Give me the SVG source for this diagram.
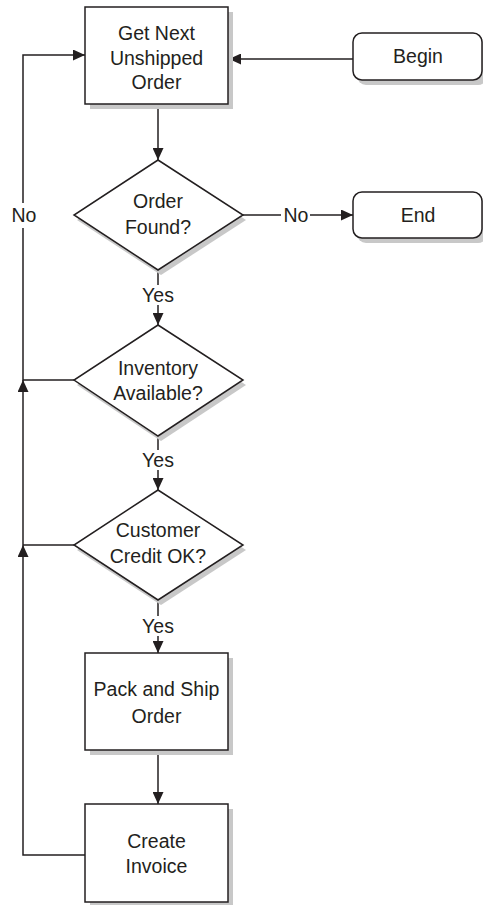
<svg xmlns="http://www.w3.org/2000/svg" width="483" height="905" viewBox="0 0 483 905">
<style>
.box{fill:#fff;stroke:#231f20;stroke-width:1.5}
.sh{fill:#c8c8c8;stroke:none}
.t{font-family:"Liberation Sans",Arial,sans-serif;font-size:19.5px;fill:#231f20;text-anchor:middle}
.c{fill:none;stroke:#231f20;stroke-width:1.5}
</style>
<defs>
<marker id="ah" viewBox="0 0 12 11" refX="12" refY="5.5" markerUnits="userSpaceOnUse" markerWidth="12" markerHeight="11" orient="auto">
<path d="M0,0 L12,5.5 L0,11 z" fill="#231f20"/>
</marker>
</defs>
<rect width="483" height="905" fill="#fff"/>
<g id="connectors">
<path class="c" d="M353,59 H229" marker-end="url(#ah)"/>
<path class="c" d="M158,104 V160" marker-end="url(#ah)"/>
<path class="c" d="M243,215 H281"/>
<path class="c" d="M310,215 H353" marker-end="url(#ah)"/>
<path class="c" d="M158,270 V285"/>
<path class="c" d="M158,305 V325" marker-end="url(#ah)"/>
<path class="c" d="M158,436 V450"/>
<path class="c" d="M158,470 V490" marker-end="url(#ah)"/>
<path class="c" d="M158,600 V616"/>
<path class="c" d="M158,636 V653" marker-end="url(#ah)"/>
<path class="c" d="M158,750 V804" marker-end="url(#ah)"/>
<path class="c" d="M85,855 H23 V545" marker-end="url(#ah)"/>
<path class="c" d="M23,545 V380" marker-end="url(#ah)"/>
<path class="c" d="M74,545 H23"/>
<path class="c" d="M74,380 H23 V228"/>
<path class="c" d="M23,203 V55 H85" marker-end="url(#ah)"/>
<text class="t" x="296" y="222">No</text>
<text class="t" x="24" y="222">No</text>
<text class="t" x="158" y="302">Yes</text>
<text class="t" x="158" y="467">Yes</text>
<text class="t" x="158" y="633">Yes</text>
</g>
<g id="get-next">
<rect class="sh" x="90" y="12" width="143" height="97"/>
<rect class="box" x="85" y="7" width="143" height="97"/>
<text class="t" x="156.5" y="40">Get Next</text>
<text class="t" x="156.5" y="65">Unshipped</text>
<text class="t" x="156.5" y="89">Order</text>
</g>
<g id="begin">
<rect class="sh" x="357" y="38" width="130" height="47" rx="9"/>
<rect class="box" x="353" y="33" width="129" height="47" rx="9"/>
<text class="t" x="418" y="63">Begin</text>
</g>
<g id="order-found">
<polygon class="sh" points="161,165 246,220 161,275 77,220"/>
<polygon class="box" points="158,160 243,215 158,270 74,215"/>
<text class="t" x="158" y="208">Order</text>
<text class="t" x="158" y="234">Found?</text>
</g>
<g id="end">
<rect class="sh" x="357" y="197" width="130" height="46" rx="9"/>
<rect class="box" x="353" y="192" width="129" height="46" rx="9"/>
<text class="t" x="418" y="222">End</text>
</g>
<g id="inventory">
<polygon class="sh" points="161,330 246,385 161,441 77,385"/>
<polygon class="box" points="158,325 243,380 158,436 74,380"/>
<text class="t" x="158" y="375">Inventory</text>
<text class="t" x="158" y="400">Available?</text>
</g>
<g id="credit">
<polygon class="sh" points="161,495 246,550 161,605 77,550"/>
<polygon class="box" points="158,490 243,545 158,600 74,545"/>
<text class="t" x="158" y="537">Customer</text>
<text class="t" x="158" y="563">Credit OK?</text>
</g>
<g id="pack-ship">
<rect class="sh" x="90" y="658" width="143" height="97"/>
<rect class="box" x="85" y="653" width="143" height="97"/>
<text class="t" x="156.5" y="696">Pack and Ship</text>
<text class="t" x="156.5" y="723">Order</text>
</g>
<g id="create-invoice">
<rect class="sh" x="90" y="809" width="143" height="97"/>
<rect class="box" x="85" y="804" width="143" height="98"/>
<text class="t" x="156.5" y="848">Create</text>
<text class="t" x="156.5" y="873">Invoice</text>
</g>
</svg>
